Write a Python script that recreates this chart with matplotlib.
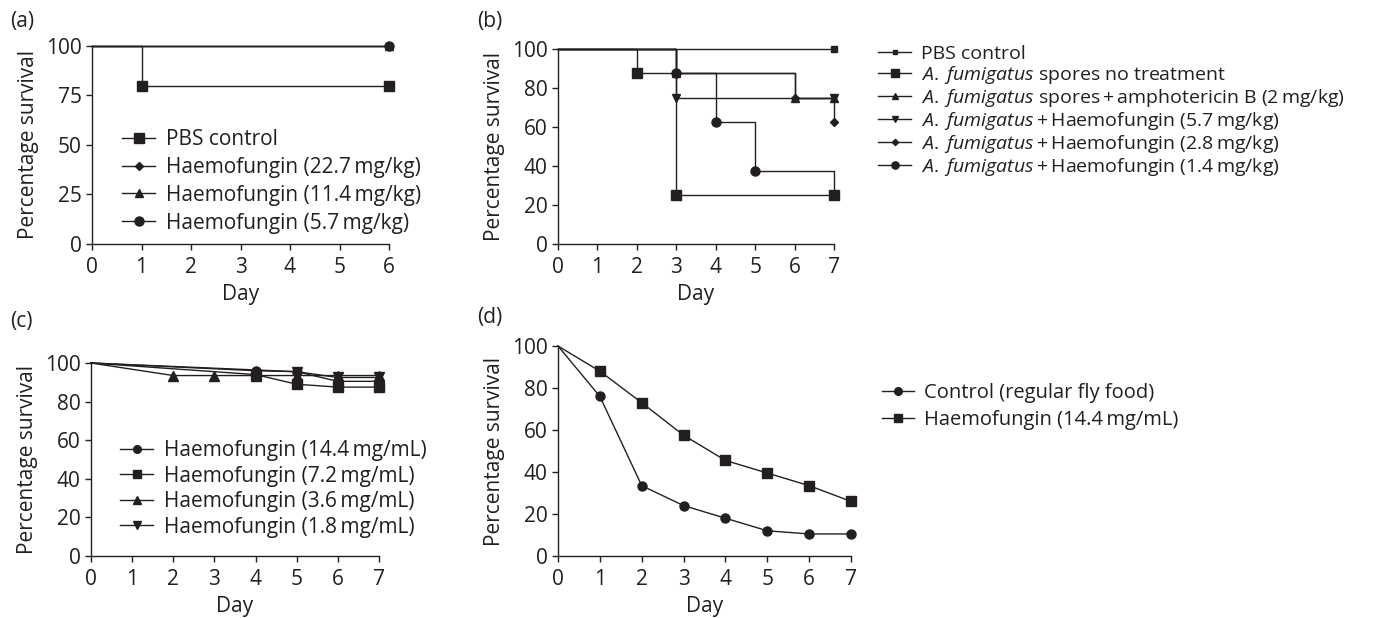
import matplotlib
matplotlib.use("Agg")
import matplotlib.pyplot as plt

plt.rcParams['font.family'] = ['Open Sans', 'DejaVu Sans']
plt.rcParams['mathtext.fontset'] = 'custom'
plt.rcParams['mathtext.rm'] = 'Open Sans'
plt.rcParams['mathtext.it'] = 'Open Sans:italic'
plt.rcParams['text.color'] = '#231f20'
plt.rcParams['axes.labelcolor'] = '#231f20'
plt.rcParams['xtick.color'] = '#231f20'
plt.rcParams['ytick.color'] = '#231f20'

T = '\u2009'  # thin space
AF = r'$\it{A.}$ $\it{fumigatus}$'

# ---- data ----
# (a) survival, mice
a_days_pbs = [0, 1, 6]
a_pbs = [100, 80, 80]
a_days_hf = [0, 6]
a_hf_227 = [100, 100]
a_hf_114 = [100, 100]
a_hf_57 = [100, 100]
a_labels = ['PBS control', f'Haemofungin (22.7{T}mg/kg)',
            f'Haemofungin (11.4{T}mg/kg)', f'Haemofungin (5.7{T}mg/kg)']

# (b) survival, A. fumigatus infection
b_days_pbs = [0, 7]
b_pbs = [100, 100]
b_days_spores = [0, 2, 3, 7]
b_spores = [100, 87.5, 25, 25]
b_days_ampho = [0, 3, 6, 7]
b_ampho = [100, 87.5, 75, 75]
b_days_hf57 = [0, 3, 7]
b_hf57 = [100, 75, 75]
b_days_hf28 = [0, 3, 6, 7]
b_hf28 = [100, 87.5, 75, 62.5]
b_days_hf14 = [0, 3, 4, 5, 7]
b_hf14 = [100, 87.5, 62.5, 37.5, 25]
b_labels = ['PBS control',
            AF + ' spores no treatment',
            AF + f' spores{T}+{T}amphotericin B (2{T}mg/kg)',
            AF + f'{T}+{T}Haemofungin (5.7{T}mg/kg)',
            AF + f'{T}+{T}Haemofungin (2.8{T}mg/kg)',
            AF + f'{T}+{T}Haemofungin (1.4{T}mg/kg)']

# (c) fly survival, haemofungin in food
c_days_144 = [0, 4, 5, 6, 7]
c_144 = [100, 96, 95.5, 90.5, 90.5]
c_days_72 = [0, 4, 5, 6, 7]
c_72 = [100, 94, 89, 87.5, 87.5]
c_days_36 = [0, 2, 3, 4, 5, 6, 7]
c_36 = [100, 93.5, 93.5, 93.5, 93.5, 93.5, 93.5]
c_days_18 = [0, 5, 6, 7]
c_18 = [100, 95.5, 92.5, 92.5]
c_labels = [f'Haemofungin (14.4{T}mg/mL)', f'Haemofungin (7.2{T}mg/mL)',
            f'Haemofungin (3.6{T}mg/mL)', f'Haemofungin (1.8{T}mg/mL)']

# (d) fly survival, infection
d_days = [0, 1, 2, 3, 4, 5, 6, 7]
d_control = [100, 76, 33.5, 24, 18, 12, 10.5, 10.5]
d_hf = [100, 88, 73, 57.5, 45.5, 39.5, 33.5, 26]
d_labels = ['Control (regular fly food)', f'Haemofungin (14.4{T}mg/mL)']

W, H = 1377, 618
fig = plt.figure(figsize=(W / 100, H / 100), dpi=100)
lc = '#231f20'
lw = 1.0
fs = 15


def px_axes(x0, x1, y_top, y_bot):
    return fig.add_axes([x0 / W, 1 - y_bot / H, (x1 - x0) / W, (y_bot - y_top) / H])


def style(ax, xmax, yticks):
    ax.spines[['right', 'top']].set_visible(False)
    for s in ['left', 'bottom']:
        ax.spines[s].set_color(lc)
        ax.spines[s].set_linewidth(1.0)
    ax.set_xlim(0, xmax)
    ax.set_ylim(0, 100)
    ax.set_xticks(range(xmax + 1))
    ax.set_yticks(yticks)
    ax.tick_params(direction='out', length=4.5, width=1.0, labelsize=fs, pad=3)
    ax.tick_params(axis='x', pad=5)
    ax.set_xlabel('Day', fontsize=fs, labelpad=4)
    ax.set_ylabel('Percentage survival', fontsize=fs, labelpad=5)


def line(ax, x, y, marker, ms, label, step=False):
    ax.plot(x, y, color=lc, lw=lw, marker=marker, ms=ms, markevery=slice(1, None),
            drawstyle='steps-post' if step else 'default', clip_on=False, label=label)


# ---- (a) ----
ax = px_axes(92, 389, 46, 244)
line(ax, a_days_pbs, a_pbs, 's', 7, a_labels[0], step=True)
line(ax, a_days_hf, a_hf_227, 'D', 4, a_labels[1], step=True)
line(ax, a_days_hf, a_hf_114, '^', 6, a_labels[2], step=True)
line(ax, a_days_hf, a_hf_57, 'o', 6.5, a_labels[3], step=True)
style(ax, 6, [0, 25, 50, 75, 100])
ax.legend(loc='upper left', bbox_to_anchor=(122 / W, 1 - 129 / H), bbox_transform=fig.transFigure,
          frameon=False, fontsize=15, handlelength=1.6, handletextpad=0.5,
          labelspacing=0.33, borderpad=0, borderaxespad=0)
fig.text(10 / W, 1 - 22 / H, '(a)', fontsize=fs, va='center')

# ---- (b) ----
ax = px_axes(558, 834, 49, 244)
line(ax, b_days_pbs, b_pbs, 's', 4, b_labels[0], step=True)
line(ax, b_days_spores, b_spores, 's', 7, b_labels[1], step=True)
line(ax, b_days_ampho, b_ampho, '^', 6, b_labels[2], step=True)
line(ax, b_days_hf57, b_hf57, 'v', 6, b_labels[3], step=True)
line(ax, b_days_hf28, b_hf28, 'D', 4, b_labels[4], step=True)
line(ax, b_days_hf14, b_hf14, 'o', 6.5, b_labels[5], step=True)
style(ax, 7, [0, 20, 40, 60, 80, 100])
ax.legend(loc='upper left', bbox_to_anchor=(878 / W, 1 - 45 / H), bbox_transform=fig.transFigure,
          frameon=False, fontsize=14, handlelength=1.7, handletextpad=0.5,
          labelspacing=0.05, borderpad=0, borderaxespad=0, markerscale=0.8)
fig.text(477 / W, 1 - 22 / H, '(b)', fontsize=fs, va='center')

# ---- (c) ----
ax = px_axes(91, 379, 363, 556)
line(ax, c_days_144, c_144, 'o', 6.5, c_labels[0])
line(ax, c_days_72, c_72, 's', 7, c_labels[1])
line(ax, c_days_36, c_36, '^', 6.5, c_labels[2])
line(ax, c_days_18, c_18, 'v', 6.5, c_labels[3])
style(ax, 7, [0, 20, 40, 60, 80, 100])
ax.legend(loc='upper left', bbox_to_anchor=(120 / W, 1 - 440 / H), bbox_transform=fig.transFigure,
          frameon=False, fontsize=15, handlelength=1.6, handletextpad=0.5,
          labelspacing=0.22, borderpad=0, borderaxespad=0, markerscale=0.85)
fig.text(10 / W, 1 - 322 / H, '(c)', fontsize=fs, va='center')

# ---- (d) ----
ax = px_axes(558, 851, 346, 556)
line(ax, d_days, d_control, 'o', 6.5, d_labels[0])
line(ax, d_days, d_hf, 's', 7.5, d_labels[1])
style(ax, 7, [0, 20, 40, 60, 80, 100])
ax.legend(loc='upper left', bbox_to_anchor=(882 / W, 1 - 383 / H), bbox_transform=fig.transFigure,
          frameon=False, fontsize=14.5, handlelength=1.6, handletextpad=0.5,
          labelspacing=0.35, borderpad=0, borderaxespad=0, markerscale=0.85)
fig.text(477 / W, 1 - 318 / H, '(d)', fontsize=fs, va='center')

fig.savefig('out.png', dpi=100)
